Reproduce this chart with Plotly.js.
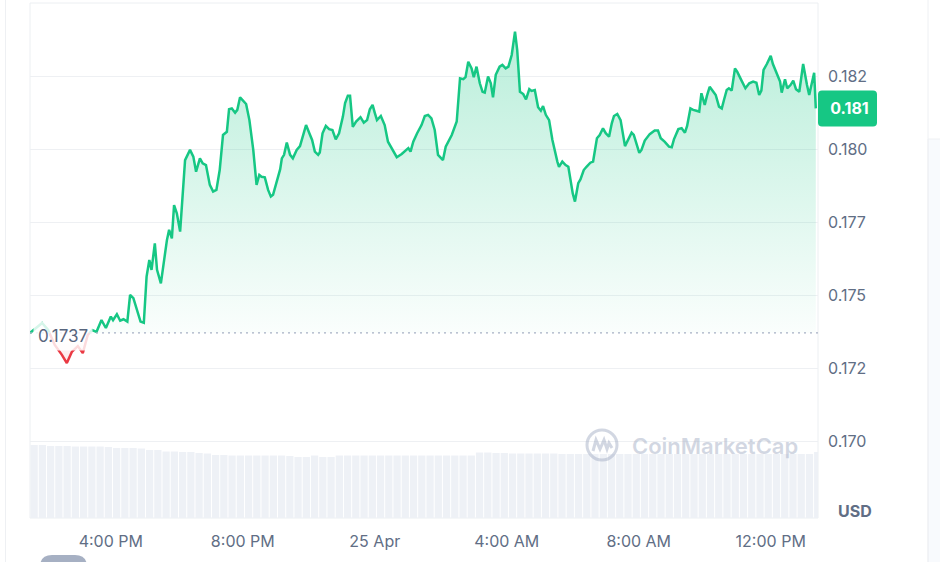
<!DOCTYPE html>
<html>
<head>
<meta charset="utf-8">
<script src="https://cdn.plot.ly/plotly-3.0.1.min.js"></script>
<style>html,body{margin:0;padding:0;background:#fff;}#chart{width:940px;height:562px;}</style>
</head>
<body>
<div id="chart"></div>
<script>
// Minutes after 24 Apr 13:33 for each price sample
const minutes = [
  0,11,22,33,45,58,67,76,87,96,
  105,113,121,130,138,147,151,158,164,170,
  177,182,188,195,201,207,212,217,221,227,
  231,238,249,253,258,262,267,273,282,291,
  297,302,309,314,320,327,333,339,345,351,
  358,362,367,373,377,382,388,393,399,406,
  412,417,421,427,433,438,442,449,455,458,
  462,467,473,478,485,491,496,502,508,513,
  518,524,527,532,538,544,550,556,562,569,
  573,578,582,587,593,601,607,613,618,623,
  627,631,638,645,651,659,667,676,684,688,
  692,697,704,712,718,724,730,736,742,751,
  756,767,776,782,788,792,797,803,807,812,
  818,823,827,833,838,842,847,854,859,865,
  870,876,882,886,891,897,902,908,912,918,
  924,929,933,938,944,950,959,962,968,974,
  979,987,991,997,1001,1007,1012,1019,1024,1031,
  1036,1042,1047,1053,1058,1062,1068,1074,1082,1088,
  1094,1098,1103,1108,1112,1118,1127,1136,1142,1147,
  1154,1162,1167,1171,1179,1185,1191,1195,1201,1206,
  1212,1217,1221,1227,1231,1236,1241,1247,1253,1258,
  1262,1267,1271,1276,1282,1286,1294,1301,1308,1315,
  1321,1326,1330,1334,1340,1347,1351,1358,1364,1367,
  1373,1377,1383,1388,1393,1399,1406,1413,1417,1426,
  1429
];
const prices = [
  0.17370,0.17387,0.17404,0.17380,0.17329,0.17295,0.17267,0.17305,0.17325,0.17301,
  0.17363,0.17380,0.17374,0.17414,0.17387,0.17426,0.17414,0.17434,0.17412,0.17417,
  0.17409,0.17500,0.17489,0.17443,0.17409,0.17405,0.17563,0.17620,0.17586,0.17677,
  0.17586,0.17540,0.17688,0.17723,0.17694,0.17808,0.17780,0.17717,0.17962,0.17997,
  0.17974,0.17922,0.17968,0.17951,0.17945,0.17877,0.17854,0.17860,0.17928,0.18048,
  0.18059,0.18136,0.18139,0.18124,0.18134,0.18177,0.18166,0.18154,0.18099,0.17997,
  0.17877,0.17911,0.17905,0.17903,0.17860,0.17837,0.17843,0.17894,0.17931,0.17968,
  0.17980,0.18022,0.17980,0.17968,0.17997,0.18010,0.18040,0.18082,0.18054,0.18031,
  0.17991,0.17980,0.17988,0.18054,0.18079,0.18068,0.18065,0.18033,0.18054,0.18111,
  0.18157,0.18182,0.18182,0.18076,0.18094,0.18109,0.18090,0.18099,0.18136,0.18151,
  0.18124,0.18099,0.18113,0.18082,0.18025,0.17997,0.17972,0.17983,0.17997,0.18003,
  0.17991,0.18025,0.18054,0.18082,0.18113,0.18117,0.18105,0.18065,0.17980,0.17962,
  0.18008,0.18048,0.18094,0.18242,0.18239,0.18246,0.18299,0.18276,0.18246,0.18282,
  0.18225,0.18196,0.18193,0.18248,0.18225,0.18177,0.18254,0.18282,0.18288,0.18276,
  0.18282,0.18322,0.18402,0.18339,0.18196,0.18188,0.18170,0.18205,0.18199,0.18202,
  0.18143,0.18131,0.18147,0.18117,0.18099,0.18031,0.17957,0.17939,0.17957,0.17945,
  0.17939,0.17848,0.17820,0.17883,0.17896,0.17928,0.17939,0.17953,0.17957,0.18037,
  0.18048,0.18071,0.18054,0.18042,0.18088,0.18113,0.18120,0.18099,0.18010,0.18031,
  0.18056,0.18048,0.18017,0.17987,0.17997,0.18029,0.18051,0.18063,0.18063,0.18037,
  0.18025,0.18008,0.18006,0.18033,0.18068,0.18071,0.18056,0.18079,0.18139,0.18134,
  0.18131,0.18128,0.18191,0.18151,0.18182,0.18213,0.18200,0.18185,0.18145,0.18139,
  0.18168,0.18202,0.18208,0.18200,0.18276,0.18265,0.18234,0.18208,0.18225,0.18231,
  0.18227,0.18185,0.18200,0.18271,0.18291,0.18319,0.18291,0.18259,0.18231,0.18193,
  0.18239,0.18208,0.18219,0.18234,0.18205,0.18196,0.18291,0.18219,0.18185,0.18261,
  0.18139
];
// 24h volume (millions USD), one value per 15 minutes
const volume = [
  1460,1460,1440,1440,1440,1430,1430,1430,1430,1420,
  1400,1400,1400,1390,1360,1360,1330,1330,1320,1320,
  1300,1290,1260,1260,1250,1250,1250,1250,1250,1250,
  1250,1240,1220,1220,1250,1220,1220,1250,1250,1250,
  1250,1250,1250,1250,1250,1250,1250,1250,1250,1250,
  1250,1250,1250,1250,1310,1310,1300,1300,1290,1290,
  1290,1290,1290,1290,1280,1280,1280,1280,1280,1280,
  1280,1280,1280,1280,1280,1280,1280,1280,1280,1280,
  1280,1280,1280,1280,1280,1280,1280,1280,1280,1280,
  1280,1280,1280,1280,1280,1320
];
const openPrice = 0.1737;
const lastLabel = '0.181';
const tickVals = ['2024-04-24 16:00','2024-04-24 20:00','2024-04-25 00:00','2024-04-25 04:00','2024-04-25 08:00','2024-04-25 12:00'];
const tickText = ['4:00 PM','8:00 PM','25 Apr','4:00 AM','8:00 AM','12:00 PM'];
const priceTickVals = [0.1700,0.1725,0.1750,0.1775,0.1800,0.1825];
const priceTickText = ['0.170','0.172','0.175','0.177','0.180','0.182'];

const startMs = Date.UTC(2024,3,24,13,33);
function toDate(m){ return new Date(startMs + m*60000).toISOString().slice(0,19).replace('T',' '); }

// insert crossings with the open-price baseline so colours split cleanly
const ax = [], ay = [];
for (let i=0;i<prices.length;i++){
  ax.push(minutes[i]); ay.push(prices[i]);
  if (i < prices.length-1){
    const a = prices[i]-openPrice, b = prices[i+1]-openPrice;
    if (a*b < 0){
      const t = (openPrice-prices[i])/(prices[i+1]-prices[i]);
      ax.push(minutes[i]+t*(minutes[i+1]-minutes[i])); ay.push(openPrice);
    }
  }
}
const X = ax.map(toDate);
const baseArr = ay.map(()=>openPrice);
const upY = ay.map(v=>v>=openPrice?v:null);
const dnY = ay.map(v=>v<=openPrice?v:null);
const fillUp = ay.map(v=>Math.max(v,openPrice));
const fillDn = ay.map(v=>Math.min(v,openPrice));
const volX = volume.map((v,i)=>toDate(15*i+7.5));

const GREEN='#16c784', RED='#ea3943', TXT='#616e85';
const Y0 = 0.167363, Y1 = 0.185;

const traces = [
  {x:volX, y:volume, type:'bar', yaxis:'y2', marker:{color:'#eef1f6', line:{width:0}}, hoverinfo:'skip'},
  {x:X, y:baseArr, mode:'lines', line:{width:0}, hoverinfo:'skip'},
  {x:X, y:fillUp, mode:'lines', line:{width:0}, fill:'tonexty',
   fillgradient:{type:'vertical', start:openPrice, stop:0.1840,
     colorscale:[[0,'rgba(22,199,132,0.02)'],[1,'rgba(22,199,132,0.30)']]}, hoverinfo:'skip'},
  {x:X, y:baseArr, mode:'lines', line:{width:0}, hoverinfo:'skip'},
  {x:X, y:fillDn, mode:'lines', line:{width:0}, fill:'tonexty',
   fillgradient:{type:'vertical', start:0.1725, stop:openPrice,
     colorscale:[[0,'rgba(234,57,67,0.15)'],[1,'rgba(234,57,67,0.0)']]}, hoverinfo:'skip'},
  {x:X, y:dnY, mode:'lines', line:{color:RED, width:2.5}, connectgaps:false},
  {x:X, y:upY, mode:'lines', line:{color:GREEN, width:2.5}, connectgaps:false}
];

const px = v => (v-30)/788;          // helper for decoration placement
const py = v => (518-v)/515;
const lastPrice = prices[prices.length-1];
const lastPaperY = (lastPrice-Y0)/(Y1-Y0);

const layout = {
  width:940, height:562,
  margin:{l:30, r:122, t:3, b:44, pad:0},
  paper_bgcolor:'#ffffff', plot_bgcolor:'#ffffff',
  showlegend:false, hovermode:false, bargap:0.12,
  font:{family:'Inter, sans-serif', color:TXT, size:16},
  xaxis:{type:'date', range:[toDate(0), toDate(1433)], tickmode:'array', tickvals:tickVals, ticktext:tickText,
    showgrid:false, zeroline:false, showline:false, ticks:'', ticklabelstandoff:12,
    tickfont:{size:16, color:TXT}, fixedrange:true},
  yaxis:{range:[Y0,Y1], side:'right', tickmode:'array', tickvals:priceTickVals, ticktext:priceTickText,
    showgrid:true, gridcolor:'#eef0f3', gridwidth:1, zeroline:false, showline:false, ticks:'',
    ticklabelstandoff:9, tickfont:{size:16, color:TXT}, fixedrange:true},
  yaxis2:{range:[0,10300], overlaying:'y', visible:false, fixedrange:true},
  shapes:[
    {type:'rect', xref:'paper', yref:'paper', x0:0, x1:1, y0:0, y1:1, line:{color:'#eceff2', width:1}, layer:'below'},
    {type:'line', xref:'paper', yref:'y', x0:0, x1:1, y0:openPrice, y1:openPrice, line:{color:'#a6b0c3', width:1.3, dash:'2px,4px'}},
    {type:'line', xref:'paper', yref:'paper', x0:px(5.5), x1:px(5.5), y0:py(0), y1:py(562), line:{color:'#eef0f3', width:1}},
    {type:'rect', xref:'paper', yref:'paper', x0:px(928), x1:px(945), y0:py(139), y1:py(570), fillcolor:'#f8fafd', line:{color:'#eef0f3', width:1}},
    {type:'line', xref:'paper', yref:'paper', x0:px(928), x1:px(928), y0:py(0), y1:py(562), line:{color:'#eef0f3', width:1}},
    // price badge
    {type:'path', xref:'paper', yref:'paper', xsizemode:'pixel', ysizemode:'pixel', xanchor:1, yanchor:lastPaperY,
     path:'M 4,18 L 55,18 Q 59,18 59,14 L 59,-14 Q 59,-18 55,-18 L 4,-18 Q 0,-18 0,-14 L 0,14 Q 0,18 4,18 Z',
     fillcolor:GREEN, line:{width:0}},
    // watermark logo
    {type:'circle', xref:'paper', yref:'paper', xsizemode:'pixel', ysizemode:'pixel', xanchor:px(602), yanchor:py(445),
     x0:-15, x1:15, y0:-15, y1:15, line:{color:'rgba(166,176,198,0.5)', width:3}},
    {type:'path', xref:'paper', yref:'paper', xsizemode:'pixel', ysizemode:'pixel', xanchor:px(602), yanchor:py(445),
     path:'M -9,-6 L -6,5 L -2,-4 L 2,5 L 5,-4 L 7,2 L 10,-3', line:{color:'rgba(166,176,198,0.5)', width:3}},
    // partial button at bottom
    {type:'path', xref:'paper', yref:'paper', xsizemode:'pixel', ysizemode:'pixel', xanchor:px(40), yanchor:py(555),
     path:'M 0,-12 Q 0,0 12,0 L 35,0 Q 47,0 47,-12 L 47,-30 L 0,-30 Z', fillcolor:'#a6b0c3', line:{width:0}}
  ],
  annotations:[
    {xref:'x', yref:'y', x:toDate(0), y:openPrice, xanchor:'left', yanchor:'middle', xshift:3, yshift:-3,
     text:'0.1737', showarrow:false, font:{size:17, color:'#58667e'}, bgcolor:'rgba(255,255,255,0.82)', borderpad:4},
    {xref:'paper', yref:'paper', x:1, y:lastPaperY, xanchor:'left', yanchor:'middle',
     text:'<b>'+lastLabel+'</b>', showarrow:false, width:59, align:'center', font:{size:16, color:'#ffffff'}},
    {xref:'paper', yref:'paper', x:px(855), y:py(511), xanchor:'center', yanchor:'middle',
     text:'<b>USD</b>', showarrow:false, font:{size:16, color:'#616e85'}},
    {xref:'paper', yref:'paper', x:px(630), y:py(446), xanchor:'left', yanchor:'middle',
     text:'CoinMarketCap', showarrow:false, font:{size:22, weight:600, color:'rgba(166,176,198,0.5)'}}
  ]
};

Plotly.newPlot('chart', traces, layout, {displayModeBar:false, staticPlot:true});
</script>
</body>
</html>
